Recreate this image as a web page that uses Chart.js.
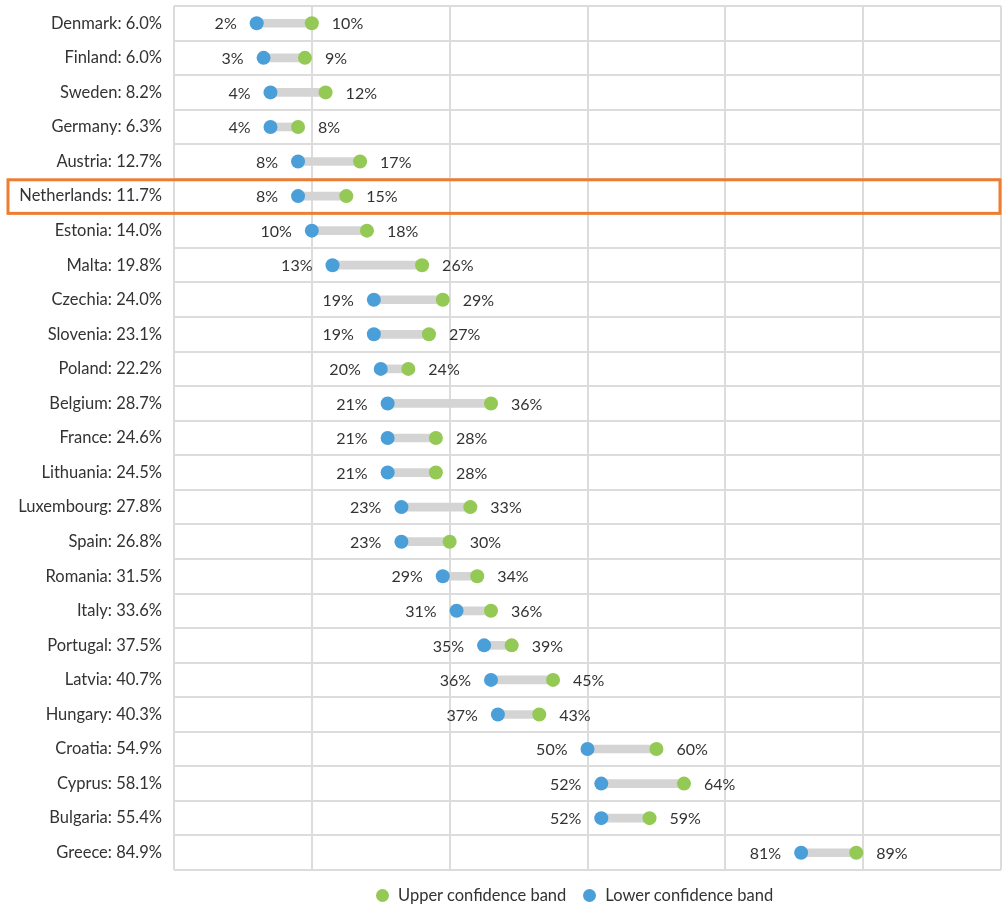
<!DOCTYPE html>
<html>
<head>
<meta charset="utf-8">
<script src="https://cdn.jsdelivr.net/npm/chart.js@4/dist/chart.umd.min.js"></script>
<style>
  html, body { margin: 0; padding: 0; background: #fff; }
  #wrap { width: 1003px; height: 908px; position: relative; }
  #band-legend { position: absolute; left: 376px; top: 885px; font-family: Lato, sans-serif; font-size: 16.5px; color: #333; }
</style>
</head>
<body>
<div id="wrap">
  <canvas id="dumbbell"></canvas>
  <div id="band-legend"></div>
</div>
<script>
// chart data
var countries = ["Denmark", "Finland", "Sweden", "Germany", "Austria", "Netherlands", "Estonia", "Malta",
  "Czechia", "Slovenia", "Poland", "Belgium", "France", "Lithuania", "Luxembourg", "Spain", "Romania",
  "Italy", "Portugal", "Latvia", "Hungary", "Croatia", "Cyprus", "Bulgaria", "Greece"];
var shares = ["6.0", "6.0", "8.2", "6.3", "12.7", "11.7", "14.0", "19.8", "24.0", "23.1", "22.2", "28.7",
  "24.6", "24.5", "27.8", "26.8", "31.5", "33.6", "37.5", "40.7", "40.3", "54.9", "58.1", "55.4", "84.9"];
var lowerBand = [2, 3, 4, 4, 8, 8, 10, 13, 19, 19, 20, 21, 21, 21, 23, 23, 29, 31, 35, 36, 37, 50, 52, 52, 81];
var upperBand = [10, 9, 12, 8, 17, 15, 18, 26, 29, 27, 24, 36, 28, 28, 33, 30, 34, 36, 39, 45, 43, 60, 64, 59, 89];
var xTicks = [-10, 10, 30, 50, 70, 90, 110];
var highlighted = "Netherlands";

var labels = countries.map(function (c, i) { return c + ": " + shares[i] + "%"; });
var ranges = lowerBand.map(function (v, i) { return [v, upperBand[i]]; });

var FONT = "Lato";
var TEXT = "#333333";

// value labels beside each dot
var bandLabels = {
  id: "bandLabels",
  afterDatasetsDraw: function (chart) {
    var ctx = chart.ctx, x = chart.scales.x, y = chart.scales.y;
    ctx.save();
    ctx.font = "16px " + FONT;
    ctx.fillStyle = TEXT;
    ctx.textBaseline = "middle";
    for (var i = 0; i < countries.length; i++) {
      var py = y.getPixelForValue(i) + 1;
      ctx.textAlign = "right";
      ctx.fillText(lowerBand[i] + "%", x.getPixelForValue(lowerBand[i]) - 20, py);
      ctx.textAlign = "left";
      ctx.fillText(upperBand[i] + "%", x.getPixelForValue(upperBand[i]) + 20, py);
    }
    ctx.restore();
  }
};

// orange frame round one row
var highlightRow = {
  id: "highlightRow",
  afterDraw: function (chart) {
    var ctx = chart.ctx, y = chart.scales.y, area = chart.chartArea;
    var idx = countries.indexOf(highlighted);
    var rowH = (area.bottom - area.top) / countries.length;
    var cy = y.getPixelForValue(idx);
    ctx.save();
    ctx.strokeStyle = "#ed7d31";
    ctx.lineWidth = 3;
    ctx.strokeRect(8, cy - rowH / 2 + 1, area.right - 9, rowH - 1);
    ctx.restore();
  }
};

// html legend, dots only
const htmlLegendPlugin = {
  id: "htmlLegend",
  afterUpdate(chart, args, options) {
    const box = document.getElementById(options.containerID);
    while (box.firstChild) {
      box.firstChild.remove();
    }
    const items = chart.options.plugins.legend.labels.generateLabels(chart)
      .filter((item) => item.text !== "range");

    items.forEach((item, n) => {
      const li = document.createElement("span");
      li.style.display = "inline-flex";
      li.style.alignItems = "center";
      li.style.marginLeft = n ? "17px" : "0";

      const dot = document.createElement("span");
      dot.style.display = "inline-block";
      dot.style.width = "13px";
      dot.style.height = "13px";
      dot.style.borderRadius = "50%";
      dot.style.background = item.fillStyle;
      dot.style.marginRight = "9px";

      const txt = document.createElement("span");
      txt.textContent = item.text;

      li.appendChild(dot);
      li.appendChild(txt);
      box.appendChild(li);
    });
  },
};

var ctx = document.getElementById("dumbbell");
var chart = new Chart(ctx, {
  type: "bar",
  data: {
    labels: labels,
    datasets: [
      {
        type: "line",
        label: "Upper confidence band",
        data: upperBand,
        showLine: false,
        pointRadius: 7,
        pointHoverRadius: 7,
        pointBorderWidth: 0,
        backgroundColor: "#93c954",
        borderColor: "#93c954",
        order: 1
      },
      {
        type: "line",
        label: "Lower confidence band",
        data: lowerBand,
        showLine: false,
        pointRadius: 7,
        pointHoverRadius: 7,
        pointBorderWidth: 0,
        backgroundColor: "#4a9fd9",
        borderColor: "#4a9fd9",
        order: 2
      },
      {
        label: "range",
        data: ranges,
        backgroundColor: "#d4d4d4",
        barThickness: 8,
        borderSkipped: false,
        order: 3
      }
    ]
  },
  options: {
    indexAxis: "y",
    responsive: true,
    maintainAspectRatio: false,
    animation: false,
    layout: { autoPadding: false, padding: { top: 6, right: 2, left: 0, bottom: 38 } },
    scales: {
      x: {
        type: "linear",
        min: -10,
        max: 110,
        afterBuildTicks: function (scale) {
          scale.ticks = xTicks.map(function (v) { return { value: v }; });
        },
        afterFit: function (scale) {
          scale.paddingLeft = 0;
          scale.paddingRight = 0;
          scale.height = 0;
        },
        ticks: { display: false },
        grid: { color: "#dcdcdc", lineWidth: 2, drawTicks: false },
        border: { display: false }
      },
      y: {
        afterFit: function (scale) {
          scale.width = 174;
          scale.paddingTop = 0;
          scale.paddingBottom = 0;
        },
        ticks: { color: TEXT, font: { family: FONT, size: 16.5 }, padding: 12, autoSkip: false },
        grid: { color: "#dcdcdc", lineWidth: 2, drawTicks: false, offset: true },
        border: { display: false }
      }
    },
    plugins: {
      htmlLegend: { containerID: "band-legend" },
      legend: { display: false },
      tooltip: { enabled: false }
    }
  },
  plugins: [bandLabels, highlightRow, htmlLegendPlugin]
});
</script>
</body>
</html>
